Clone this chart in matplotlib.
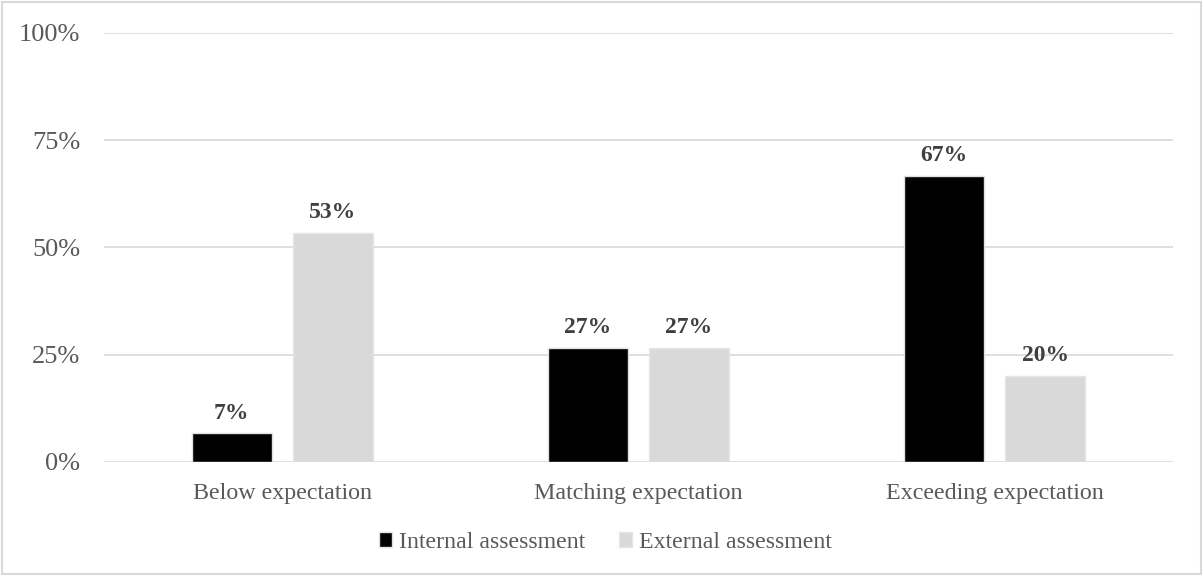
import matplotlib
matplotlib.use('agg')
import matplotlib.pyplot as plt
from matplotlib.patches import Rectangle
from matplotlib.ticker import FuncFormatter
import numpy as np

categories = ['Below expectation', 'Matching expectation', 'Exceeding expectation']
internal = [6.67, 26.67, 66.67]
external = [53.33, 26.67, 20.0]
series_names = ['Internal assessment', 'External assessment']
yticks = [0, 25, 50, 75, 100]

plt.rcParams['font.family'] = ['Liberation Serif', 'DejaVu Serif']

grid_col = '#d9d9d9'
text_col = '#595959'

fig = plt.figure(figsize=(12.03, 5.76), dpi=100)
ax = fig.add_axes([0.0865, 0.198, 0.8885, 0.745])

x = np.arange(len(categories))
w = 0.224
off = 0.1415
b1 = ax.bar(x - off, internal, w, color='black', edgecolor='#e0e0e0',
            linewidth=1, label=series_names[0])
b2 = ax.bar(x + off, external, w, color='#d9d9d9', edgecolor='#e6e6e6',
            linewidth=1, label=series_names[1])

for bars in (b1, b2):
    ax.bar_label(bars, labels=['{:.0f}%'.format(v) for v in bars.datavalues],
                 padding=7, fontsize=17, fontweight='bold', color='#404040')

ax.set_xlim(-0.5, len(categories) - 0.5)
ax.set_ylim(0, 100)
ax.set_yticks(yticks)
ax.yaxis.set_major_formatter(FuncFormatter(lambda v, p: '{:.0f}%'.format(v)))
ax.set_xticks(x)
ax.set_xticklabels(categories)
ax.tick_params(axis='y', length=0, pad=17, labelsize=19, labelcolor=text_col)
ax.tick_params(axis='x', length=0, pad=15, labelsize=17.3, labelcolor=text_col)

ax.grid(axis='y', color=grid_col, linewidth=1.2)
ax.set_axisbelow(True)
for s in ax.spines.values():
    s.set_visible(False)

fig.legend(loc='center', bbox_to_anchor=(0.503, 0.058), ncol=2, frameon=False,
           fontsize=17.2, labelcolor=text_col, handlelength=0.55,
           handleheight=0.55, handletextpad=0.3, columnspacing=1.4)

# thin frame round the whole chart
fig.patches.append(Rectangle((0.002, 0.003), 0.996, 0.994, transform=fig.transFigure,
                             fill=False, edgecolor=grid_col, linewidth=1.5))

fig.savefig('out.png', dpi=100)
